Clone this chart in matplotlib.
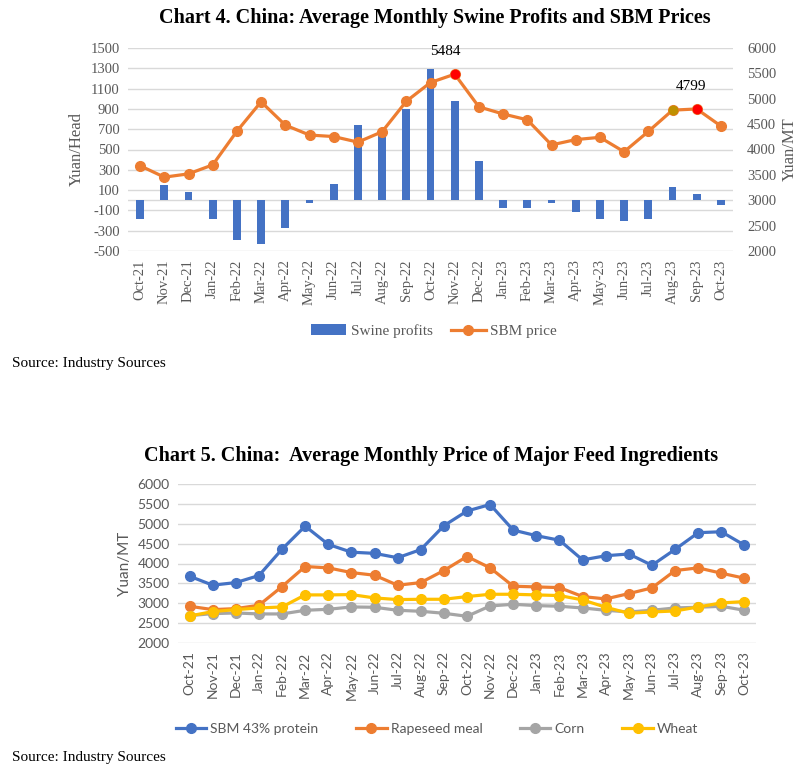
import matplotlib
matplotlib.use("Agg")
import matplotlib.pyplot as plt
import numpy as np

plt.rcParams["axes.unicode_minus"] = False

months = ["Oct-21", "Nov-21", "Dec-21", "Jan-22", "Feb-22", "Mar-22", "Apr-22",
          "May-22", "Jun-22", "Jul-22", "Aug-22", "Sep-22", "Oct-22", "Nov-22",
          "Dec-22", "Jan-23", "Feb-23", "Mar-23", "Apr-23", "May-23", "Jun-23",
          "Jul-23", "Aug-23", "Sep-23", "Oct-23"]

swine_profits = [-180, 150, 80, -185, -388, -428, -273, -30, 160, 744, 690, 900,
                 1296, 980, 385, -76, -76, -26, -118, -188, -207, -188, 132, 59, -46]

sbm = [3680, 3455, 3520, 3697, 4360, 4940, 4480, 4285, 4255, 4145, 4350, 4950,
       5320, 5484, 4840, 4700, 4585, 4090, 4195, 4240, 3955, 4355, 4775, 4799, 4462]

rapeseed = [2924, 2840, 2865, 2949, 3420, 3924, 3890, 3772, 3705, 3453, 3520, 3823,
            4176, 3890, 3428, 3411, 3394, 3168, 3109, 3243, 3386, 3823, 3890, 3756, 3630]

corn = [2689, 2739, 2756, 2731, 2731, 2823, 2848, 2907, 2899, 2823, 2798, 2748,
        2672, 2932, 2974, 2941, 2924, 2882, 2823, 2781, 2823, 2882, 2899, 2924, 2823]

wheat = [2680, 2790, 2840, 2882, 2907, 3210, 3210, 3218, 3134, 3092, 3100, 3100,
         3168, 3226, 3226, 3210, 3193, 3084, 2899, 2748, 2781, 2806, 2907, 3008, 3042]

BLUE = "#4472C4"
ORANGE = "#ED7D31"
GRAY = "#A5A5A5"
YELLOW = "#FFC000"
GRID = "#D9D9D9"
TXT = "#595959"

W, H = 806, 782
fig = plt.figure(figsize=(W / 100, H / 100), dpi=100)


def px_axes(x0, y0, x1, y1):
    return fig.add_axes([x0 / W, 1 - y1 / H, (x1 - x0) / W, (y1 - y0) / H])


x = np.arange(len(months))
serif = "Liberation Serif"

# ---- Chart 4 ----
ax = px_axes(128, 48, 733, 251)
ax.bar(x, swine_profits, width=0.33, color=BLUE, label="Swine profits", zorder=2)
ax.set_ylim(-500, 1500)
ax.set_yticks(range(-500, 1501, 200))
ax.set_xlim(-0.5, len(months) - 0.5)
ax.set_xticks(x)
ax.set_xticklabels(months, rotation=90, fontfamily=serif, fontsize=10.5, color=TXT)
for t in ax.get_yticklabels():
    t.set_fontfamily(serif)
    t.set_fontsize(10.5)
    t.set_color(TXT)
ax.grid(axis="y", color=GRID, lw=1, zorder=0)
ax.axhline(0, color=GRID, lw=1, zorder=1)
ax.tick_params(length=0, pad=6)
for s in ax.spines.values():
    s.set_visible(False)
ax.set_ylabel("Yuan/Head", fontfamily=serif, fontsize=12, color=TXT, labelpad=4)

ax2 = ax.twinx()
ax2.plot(x, sbm, color=ORANGE, lw=2.3, marker="o", ms=7, label="SBM price", zorder=3)
ax2.plot(x[13], sbm[13], "o", color="#FF0000", ms=6, zorder=4)
ax2.plot(x[23], sbm[23], "o", color="#FF0000", ms=6, zorder=4)
ax2.plot(x[22], sbm[22], "o", color="#BF9000", ms=6, zorder=4)
ax2.annotate(str(sbm[13]), (x[13], sbm[13]), xytext=(-7, 14), textcoords="offset points",
             ha="center", fontfamily=serif, fontsize=11)
ax2.annotate(str(sbm[23]), (x[23], sbm[23]), xytext=(-4, 14), textcoords="offset points",
             ha="center", fontfamily=serif, fontsize=11)
ax2.set_ylim(2000, 6000)
ax2.set_yticks(range(2000, 6001, 500))
for t in ax2.get_yticklabels():
    t.set_fontfamily(serif)
    t.set_fontsize(10.5)
    t.set_color(TXT)
ax2.tick_params(length=0, pad=10)
for s in ax2.spines.values():
    s.set_visible(False)
ax2.set_ylabel("Yuan/MT", fontfamily=serif, fontsize=12, color=TXT, labelpad=4)

h1, l1 = ax.get_legend_handles_labels()
h2, l2 = ax2.get_legend_handles_labels()
fig.legend(h1 + h2, l1 + l2, loc="center", bbox_to_anchor=(434 / W, 1 - 331 / H), ncol=2,
           frameon=False, prop={"family": serif, "size": 11}, columnspacing=1.2,
           handlelength=2.3, handletextpad=0.3, labelcolor=TXT)

fig.text(435 / W, 1 - 18 / H, "Chart 4. China: Average Monthly Swine Profits and SBM Prices",
         ha="center", va="center", fontfamily=serif, fontweight="bold", fontsize=14.5)
fig.text(12 / W, 1 - 364 / H, "Source: Industry Sources", ha="left", va="center",
         fontfamily=serif, fontsize=11)

# ---- Chart 5 ----
sans = "Lato"
bx = px_axes(178, 484, 756, 643)
series = [("SBM 43% protein", sbm, BLUE), ("Rapeseed meal", rapeseed, ORANGE),
          ("Corn", corn, GRAY), ("Wheat", wheat, YELLOW)]
for name, vals, col in series:
    bx.plot(x, vals, color=col, lw=2.3, marker="o", ms=7, label=name, zorder=3)
bx.set_ylim(2000, 6000)
bx.set_yticks(range(2000, 6001, 500))
bx.set_xlim(-0.5, len(months) - 0.5)
bx.set_xticks(x)
bx.set_xticklabels(months, rotation=90, fontfamily=sans, fontsize=10, color=TXT)
for t in bx.get_yticklabels():
    t.set_fontfamily(sans)
    t.set_fontsize(10)
    t.set_color(TXT)
bx.grid(axis="y", color=GRID, lw=1, zorder=0)
bx.tick_params(length=0, pad=6)
for s in bx.spines.values():
    s.set_visible(False)
bx.set_ylabel("Yuan/MT", fontfamily=sans, fontsize=11, color=TXT, labelpad=4)

bx.legend(loc="center", bbox_to_anchor=(437 / W, 1 - 729 / H), bbox_transform=fig.transFigure,
          ncol=4, frameon=False, prop={"family": sans, "size": 10}, columnspacing=2.7,
          handlelength=2.2, handletextpad=0.3, labelcolor=TXT)

fig.text(431 / W, 1 - 456 / H, "Chart 5. China:  Average Monthly Price of Major Feed Ingredients",
         ha="center", va="center", fontfamily=serif, fontweight="bold", fontsize=14.5)
fig.text(12 / W, 1 - 758 / H, "Source: Industry Sources", ha="left", va="center",
         fontfamily=serif, fontsize=11)

fig.savefig("out.png", dpi=100)
